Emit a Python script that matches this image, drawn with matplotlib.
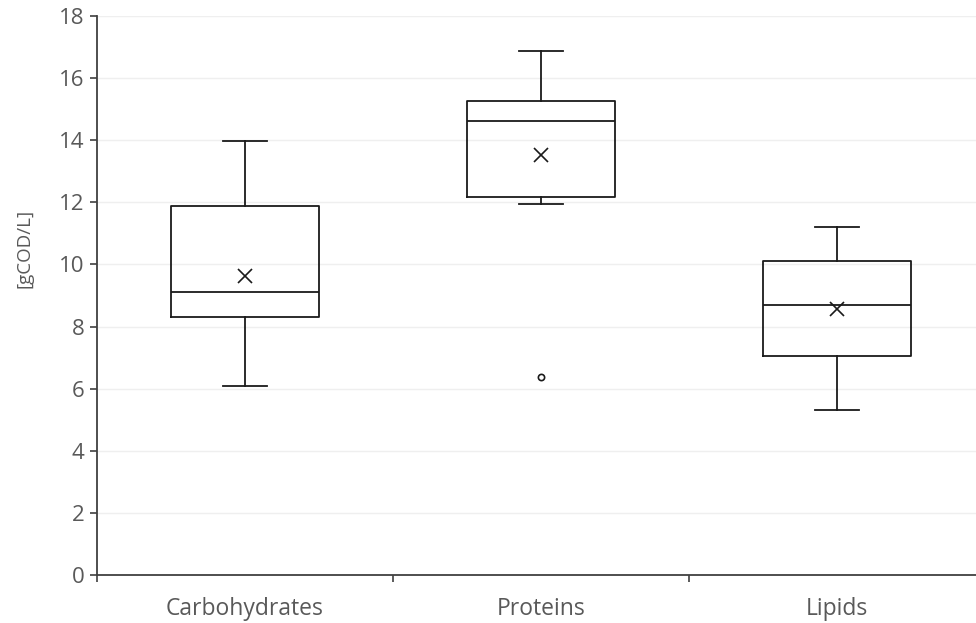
import matplotlib
matplotlib.use("Agg")
import matplotlib.pyplot as plt

plt.rcParams['font.family'] = ['Open Sans', 'DejaVu Sans']

categories = ['Carbohydrates', 'Proteins', 'Lipids']
whislo = [6.1, 11.95, 5.3]
q1 = [8.3, 12.18, 7.05]
med = [9.12, 14.62, 8.7]
q3 = [11.88, 15.27, 10.11]
whishi = [13.98, 16.88, 11.2]
means = [9.63, 13.52, 8.57]
fliers = [[], [6.38], []]

stats = []
for i in range(len(categories)):
    stats.append(dict(label=categories[i], whislo=whislo[i], q1=q1[i], med=med[i],
                      q3=q3[i], whishi=whishi[i], mean=means[i], fliers=fliers[i]))

fig = plt.figure(figsize=(9.76, 6.23), dpi=100)
# plot area runs off the right edge in the original
ax = fig.add_axes([97/976, 48/623, 888/976, 559/623])

line = dict(color='#1a1a1a', linewidth=1.3)
ax.bxp(stats, positions=[0, 1, 2], widths=0.5, showmeans=True, patch_artist=False,
       boxprops=line, whiskerprops=line, capprops=line, medianprops=line,
       capwidths=0.15,
       meanprops=dict(marker='x', markeredgecolor='#1a1a1a', markersize=10, markeredgewidth=1.2),
       flierprops=dict(marker='o', markersize=4.5, markerfacecolor='white',
                       markeredgecolor='#1a1a1a', markeredgewidth=1.2))

ax.set_xlim(-0.5, 2.5)
ax.set_ylim(0, 18)
ax.set_yticks(range(0, 19, 2))
ax.set_xticks([0, 1, 2])
ax.set_xticklabels(categories)
ax.set_xticks([-0.5, 0.5, 1.5, 2.5], minor=True)
ax.tick_params(axis='x', which='major', length=0, pad=16, labelsize=16.5, labelcolor='#595959')
ax.tick_params(axis='x', which='minor', length=5, width=1.2, color='#404040')
ax.tick_params(axis='y', length=5, width=1.2, color='#404040', labelsize=16, labelcolor='#595959', pad=4)

ax.yaxis.grid(True, color='#efefef', linewidth=1)
ax.set_axisbelow(True)
for s in ['top', 'right']:
    ax.spines[s].set_visible(False)
for s in ['left', 'bottom']:
    ax.spines[s].set_color('#404040')
    ax.spines[s].set_linewidth(1.3)

ax.set_ylabel('[gCOD/L]', fontsize=13.5, color='#595959')
ax.yaxis.set_label_coords(-0.071, 0.585)

fig.savefig('out.png', dpi=100)
